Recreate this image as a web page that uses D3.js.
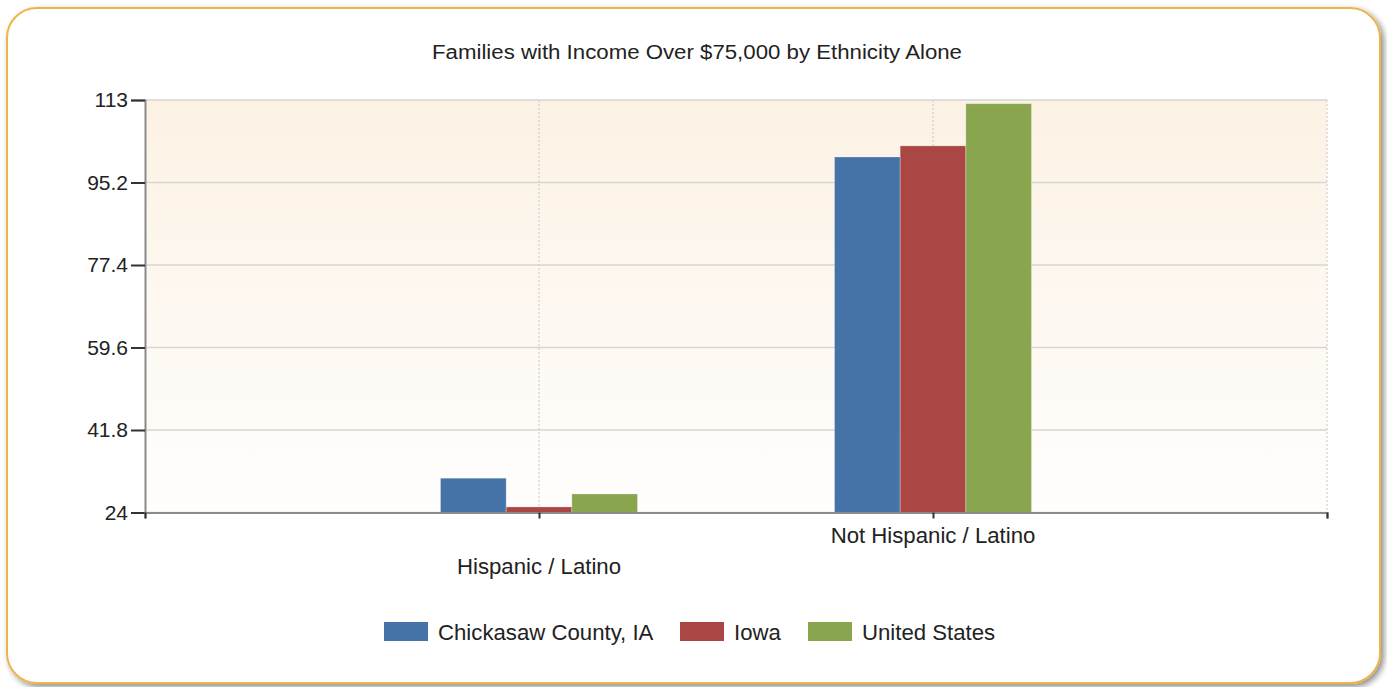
<!DOCTYPE html>
<html><head><meta charset="utf-8">
<script src="https://cdn.jsdelivr.net/npm/d3@7"></script>
<style>html,body{margin:0;padding:0;background:#fff;}svg{display:block;}</style>
</head><body>
<script>
const categories = ["Hispanic / Latino", "Not Hispanic / Latino"];
const seriesNames = ["Chickasaw County, IA", "Iowa", "United States"];
const chickasaw = [31.4, 100.7];
const iowa = [25.2, 103.1];
const unitedStates = [28.0, 112.2];
const yTicks = [24, 41.8, 59.6, 77.4, 95.2, 113];
const colors = ["#4572A7", "#AA4643", "#89A54E"];
const title = "Families with Income Over $75,000 by Ethnicity Alone";

const seriesValues = [chickasaw, iowa, unitedStates];
const W = 1387, H = 687;
const svg = d3.select("body").append("svg").attr("width", W).attr("height", H);
const defs = svg.append("defs");
const f = defs.append("filter").attr("id","sh").attr("x","-5%").attr("y","-5%").attr("width","110%").attr("height","115%");
f.append("feGaussianBlur").attr("in","SourceAlpha").attr("stdDeviation",3);
f.append("feOffset").attr("dx",3).attr("dy",3).attr("result","ob");
f.append("feComponentTransfer").append("feFuncA").attr("type","linear").attr("slope",0.45);
const m = f.append("feMerge"); m.append("feMergeNode"); m.append("feMergeNode").attr("in","SourceGraphic");
const g = defs.append("linearGradient").attr("id","bg").attr("x1",0).attr("y1",0).attr("x2",0).attr("y2",1);
g.append("stop").attr("offset","0").attr("stop-color","#FCF2E4");
g.append("stop").attr("offset","1").attr("stop-color","#FFFEFD");

svg.append("rect").attr("x",7).attr("y",8).attr("width",1373).attr("height",675)
  .attr("rx",30).attr("ry",30).attr("fill","#fff").attr("stroke","#EDB54A").attr("stroke-width",2)
  .attr("filter","url(#sh)");

const L = 145, R = 1327, T = 100, B = 512.5;
const y = d3.scaleLinear().domain([24,113]).range([B,T]);
const x = d3.scaleBand().domain(categories).range([L,R]).paddingInner(0).paddingOuter(0.5);
const groupW = 197;
const xs = d3.scaleBand().domain(seriesNames).range([0,groupW]).padding(0);

svg.append("rect").attr("x",L).attr("y",T).attr("width",R-L).attr("height",B-T).attr("fill","url(#bg)");

// horizontal grid
svg.append("g").selectAll("line").data(yTicks).join("line")
  .attr("x1",L).attr("x2",R).attr("y1",d=>y(d)).attr("y2",d=>y(d))
  .attr("stroke","#D6D6D6").attr("stroke-width",1.5);
// vertical dotted grid
const vx = categories.map(c=>x(c)+x.bandwidth()/2).concat([R]);
svg.append("g").selectAll("line").data(vx).join("line")
  .attr("x1",d=>d).attr("x2",d=>d).attr("y1",T).attr("y2",B)
  .attr("stroke","#CFCFCF").attr("stroke-width",1.2).attr("stroke-dasharray","2,2");

// bars
categories.forEach((c,ci)=>{
  const cx = x(c)+x.bandwidth()/2 - groupW/2;
  seriesNames.forEach((s,si)=>{
    const v = seriesValues[si][ci];
    svg.append("rect").attr("x",cx+xs(s)).attr("y",y(v)).attr("width",xs.bandwidth()).attr("height",B-y(v))
      .attr("fill",colors[si]).attr("stroke","rgba(255,255,255,0.35)").attr("stroke-width",0.8);
  });
});

// axes
const yAxis = d3.axisLeft(y).tickValues(yTicks).tickSize(14).tickPadding(3).tickFormat(d=>String(d));
const ya = svg.append("g").attr("transform",`translate(${L},0)`).call(yAxis);
ya.select(".domain").attr("stroke","#8A8A8A").attr("stroke-width",2);
ya.selectAll(".tick line").attr("stroke","#333").attr("stroke-width",2);
ya.selectAll("text").attr("font-family","Liberation Sans, Arial, sans-serif").attr("font-size",21).attr("fill","#222");

const xPos = d3.scaleLinear().domain([0,3]).range([L,R]);
const xa = svg.append("g").attr("transform",`translate(0,${B})`)
  .call(d3.axisBottom(xPos).tickValues([0,1,2,3]).tickSize(6).tickFormat(""));
xa.select(".domain").attr("stroke","#8A8A8A").attr("stroke-width",2);
xa.selectAll(".tick line").attr("stroke","#333").attr("stroke-width",2);

// category labels (staggered)
const catY = [574, 543];
svg.append("g").selectAll("text").data(categories).join("text")
  .attr("x",d=>x(d)+x.bandwidth()/2).attr("y",(d,i)=>catY[i]).attr("text-anchor","middle")
  .attr("font-family","Liberation Sans, Arial, sans-serif").attr("font-size",22.2).attr("fill","#222")
  .text(d=>d);

// title
svg.append("text").attr("x",697).attr("y",59).attr("text-anchor","middle")
  .attr("font-family","Liberation Sans, Arial, sans-serif").attr("font-size",19.5).attr("fill","#222")
  .attr("textLength",530).attr("lengthAdjust","spacingAndGlyphs").text(title);

// legend
const legX = [384, 680, 808];
const lg = svg.append("g");
seriesNames.forEach((s,i)=>{
  lg.append("rect").attr("x",legX[i]).attr("y",622).attr("width",44).attr("height",19).attr("fill",colors[i]);
  lg.append("text").attr("x",legX[i]+54).attr("y",640).attr("font-family","Liberation Sans, Arial, sans-serif")
    .attr("font-size",22.2).attr("fill","#222").text(s);
});
</script>
</body></html>
